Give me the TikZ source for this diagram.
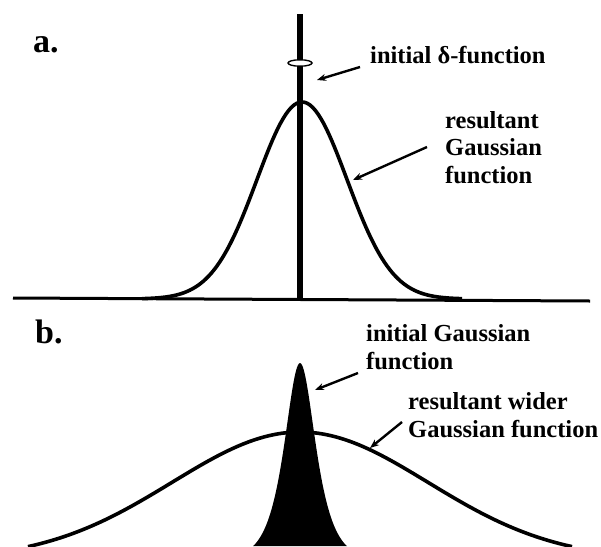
\documentclass[tikz,border=0pt]{standalone}
\usepackage{fontspec}
\setmainfont{Liberation Serif}
\usetikzlibrary{arrows.meta}

\begin{document}
\begin{tikzpicture}[x=1pt, y=-1pt,
  curve/.style={line width=3.6pt, line join=round},
  lbl/.style={font=\fontsize{24.5}{27.5}\selectfont\bfseries, inner sep=0pt,
              anchor=base west, align=left},
  panel/.style={font=\fontsize{34}{34}\selectfont\bfseries, inner sep=0pt,
                anchor=base west},
  pointer/.style={-{Stealth[length=9pt,width=7pt]}, line width=2.4pt},
]
\useasboundingbox (0,0) rectangle (601,546);
% ---- Panel (a): a delta function spreads into a Gaussian ----
\node[panel] (pa) at (33,52) {a.};
\draw[line width=3pt] (13,298) -- (590,301);
\draw[curve] plot[domain=-160:160, samples=121]
  ({302+\x}, {299-197*exp(-0.5*(\x/45)^2)});
\draw[line width=6pt] (300,14) -- (300,299);
% break mark on the spike
\draw[line width=1.4pt, fill=white] (300,63) ellipse[x radius=12, y radius=3.2];
\node[lbl] (delta) at (370,63) {initial δ-function};
\node[lbl] (gauss) at (445,183) {resultant\\Gaussian\\function};
\coordinate (deltatip) at (317,80);
\coordinate (gausstip) at (353,180);
\draw[pointer] ([xshift=-10pt,yshift=-4pt]delta.base west) -- (deltatip);
\draw[pointer] ([xshift=-18pt,yshift=36pt]gauss.base west) -- (gausstip);
% ---- Panel (b): a narrow Gaussian spreads into a wider one ----
\node[panel] (pb) at (35,343) {b.};
\fill (253,546) -- plot[domain=-46:46, samples=93]
  ({300+\x}, {560-197/cosh(\x/14)}) -- (347,546) -- cycle;
\draw[curve] plot[domain=-272:272, samples=121]
  ({300+\x}, {560-128*exp(-0.5*(\x/128)^2)});
\node[lbl] (narrow) at (366,369) {initial Gaussian\\function};
\node[lbl] (wide) at (408,437) {resultant wider\\Gaussian function};
\coordinate (narrowtip) at (315,390);
\coordinate (widetip) at (370,448);
\draw[pointer] ([xshift=-8pt,yshift=-4pt]narrow.base west) -- (narrowtip);
\draw[pointer] ([xshift=-6pt,yshift=15pt]wide.base west) -- (widetip);
\end{tikzpicture}
\end{document}
